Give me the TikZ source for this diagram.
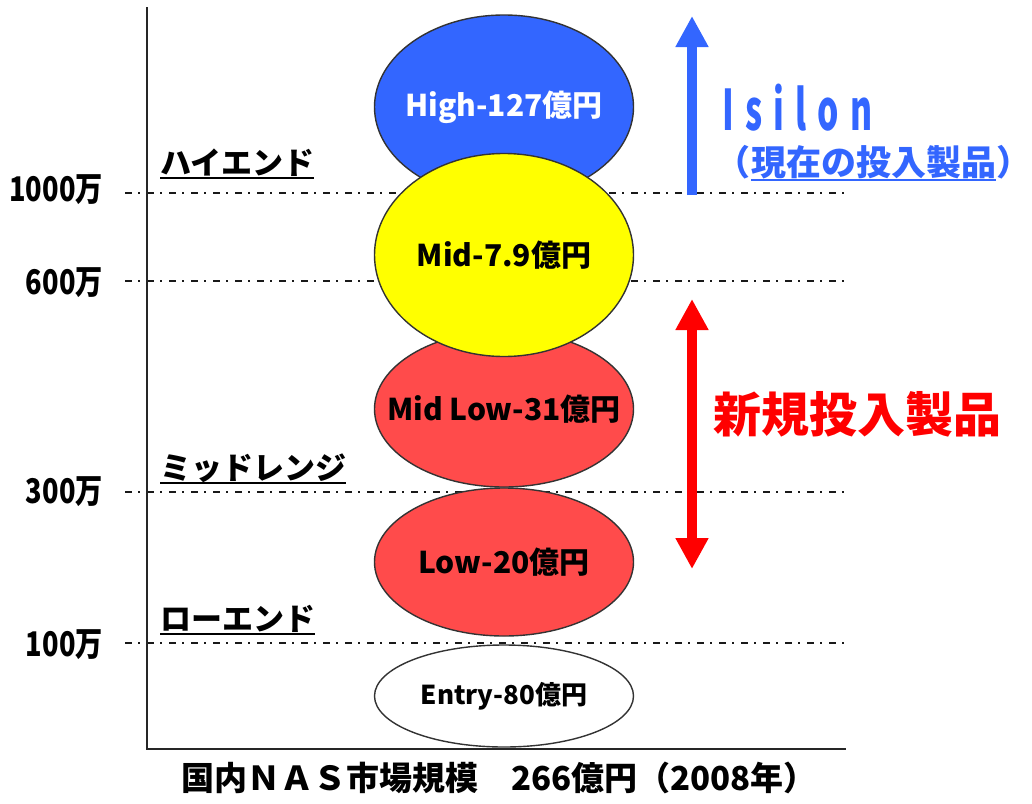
\documentclass[tikz,border=0pt]{standalone}
\usepackage{fontspec}
\setmainfont{Noto Sans CJK JP}
\newfontfamily\condfont{Noto Sans CJK JP}[FakeStretch=0.8]
\newfontfamily\isifont{Noto Sans CJK JP}[FakeStretch=0.6,LetterSpace=20]
\usetikzlibrary{shapes.geometric,arrows.meta}
\definecolor{hiblue}{HTML}{3366FF}
\definecolor{ellred}{HTML}{FF4B4B}
\definecolor{arrred}{HTML}{FF0000}
\definecolor{ylw}{HTML}{FFFF00}
\definecolor{edge}{HTML}{333333}
\newcommand{\zw}[1]{\makebox[0pt]{#1}}
\begin{document}
\begin{tikzpicture}[x=1pt,y=-1pt,
  seg/.style={ellipse, draw=edge, line width=1.4pt, minimum width=259pt, inner sep=0pt,
              font=\bfseries\fontsize{30}{30}\selectfont},
  level/.style={dash pattern=on 7pt off 6pt on 2pt off 7pt, line width=1.4pt, draw=black!90},
  axis/.style={line width=2.5pt, draw=black!85},
  vallab/.style={anchor=east, inner sep=0pt, font=\condfont\bfseries\fontsize{34}{34}\selectfont},
  cat/.style={anchor=base west, inner sep=0pt, font=\bfseries\fontsize{31}{31}\selectfont},
  ul/.style={line width=2.5pt, line cap=butt},
  bluetxt/.style={inner sep=0pt, text=hiblue, font=\bfseries\fontsize{35}{35}\selectfont},
  bigarrow/.style={line width=10pt},
  bigtip/.tip={Triangle[length=31pt,width=31pt]}
]
\useasboundingbox (0,0) rectangle (1032,803);

% axes
\coordinate (axtop) at (147,7);
\coordinate (origin) at (147,749);
\coordinate (axend) at (846,749);

% level lines
\coordinate (l1a) at (125,193); \coordinate (l1b) at (846,193);
\coordinate (l2a) at (125,281); \coordinate (l2b) at (846,281);
\coordinate (l3a) at (125,492); \coordinate (l3b) at (846,492);
\coordinate (l4a) at (125,643); \coordinate (l4b) at (846,643);
\draw[level] (l1a) -- (l1b);
\draw[level] (l2a) -- (l2b);
\draw[level] (l3a) -- (l3b);
\draw[level] (l4a) -- (l4b);
\draw[axis] (axtop) -- (origin) -- (axend);

% value labels
\node[vallab] (v1000) at (103,190) {1000万};
\node[vallab] (v600) at (103,283) {600万};
\node[vallab] (v300) at (103,492) {300万};
\node[vallab] (v100) at (103,645) {100万};

% category labels
\node[cat] (hi) at (160,174) {ハイエンド};
\draw[ul] ([yshift=-4pt]hi.base west) -- ([yshift=-4pt]hi.base east);
\node[cat] (mr) at (160,479) {ミッドレンジ};
\draw[ul] ([yshift=-4pt]mr.base west) -- ([yshift=-4pt]mr.base east);
\node[cat] (lo) at (160,630) {ローエンド};
\draw[ul] ([yshift=-4pt]lo.base west) -- ([yshift=-4pt]lo.base east);

% ellipses
\node[seg, fill=hiblue, text=white, minimum height=184pt] (high) at (504,107) {\zw{High-127億円}};
\node[seg, fill=ellred, minimum height=156pt] (midlow) at (504,409) {\zw{Mid Low-31億円}};
\node[seg, fill=ellred, minimum height=148pt] (low) at (504,562) {\zw{Low-20億円}};
\node[seg, fill=ylw, minimum height=203pt] (mid) at (504,255) {\zw{Mid-7.9億円}};
\node[seg, fill=white, minimum height=102pt, font=\bfseries\fontsize{26}{26}\selectfont] (entry) at (504,696) {\zw{Entry-80億円}};

% blue arrow + Isilon
\coordinate (bluebot) at (692,195);
\coordinate (bluetop) at (692,16);
\draw[bigarrow, hiblue, -bigtip] (bluebot) -- (bluetop);
\node[anchor=base west, inner sep=0pt, text=hiblue, font=\isifont\bfseries\fontsize{56}{56}\selectfont] (isilon) at (722,130) {Isilon};
\node[bluetxt, anchor=base west] (cur) at (751,175) {現在の投入製品};
\node[bluetxt, anchor=base east] (lp) at (cur.base west) {（};
\node[bluetxt, anchor=base west] (rp) at (cur.base east) {）};
\draw[ul, hiblue] ([yshift=-5pt]cur.base west) -- ([yshift=-5pt]cur.base east);

% red arrow + label
\coordinate (redtop) at (692,299);
\coordinate (redbot) at (692,569);
\draw[bigarrow, arrred, bigtip-bigtip] (redtop) -- (redbot);
\node[anchor=west, inner sep=0pt, text=arrred, font=\bfseries\fontsize{48}{48}\selectfont] (newp) at (713,414) {新規投入製品};

% title
\node[inner sep=0pt, font=\bfseries\fontsize{33}{33}\selectfont] (title) at (499,778) {国内ＮＡＳ市場規模　266億円（2008年）};
\end{tikzpicture}
\end{document}
